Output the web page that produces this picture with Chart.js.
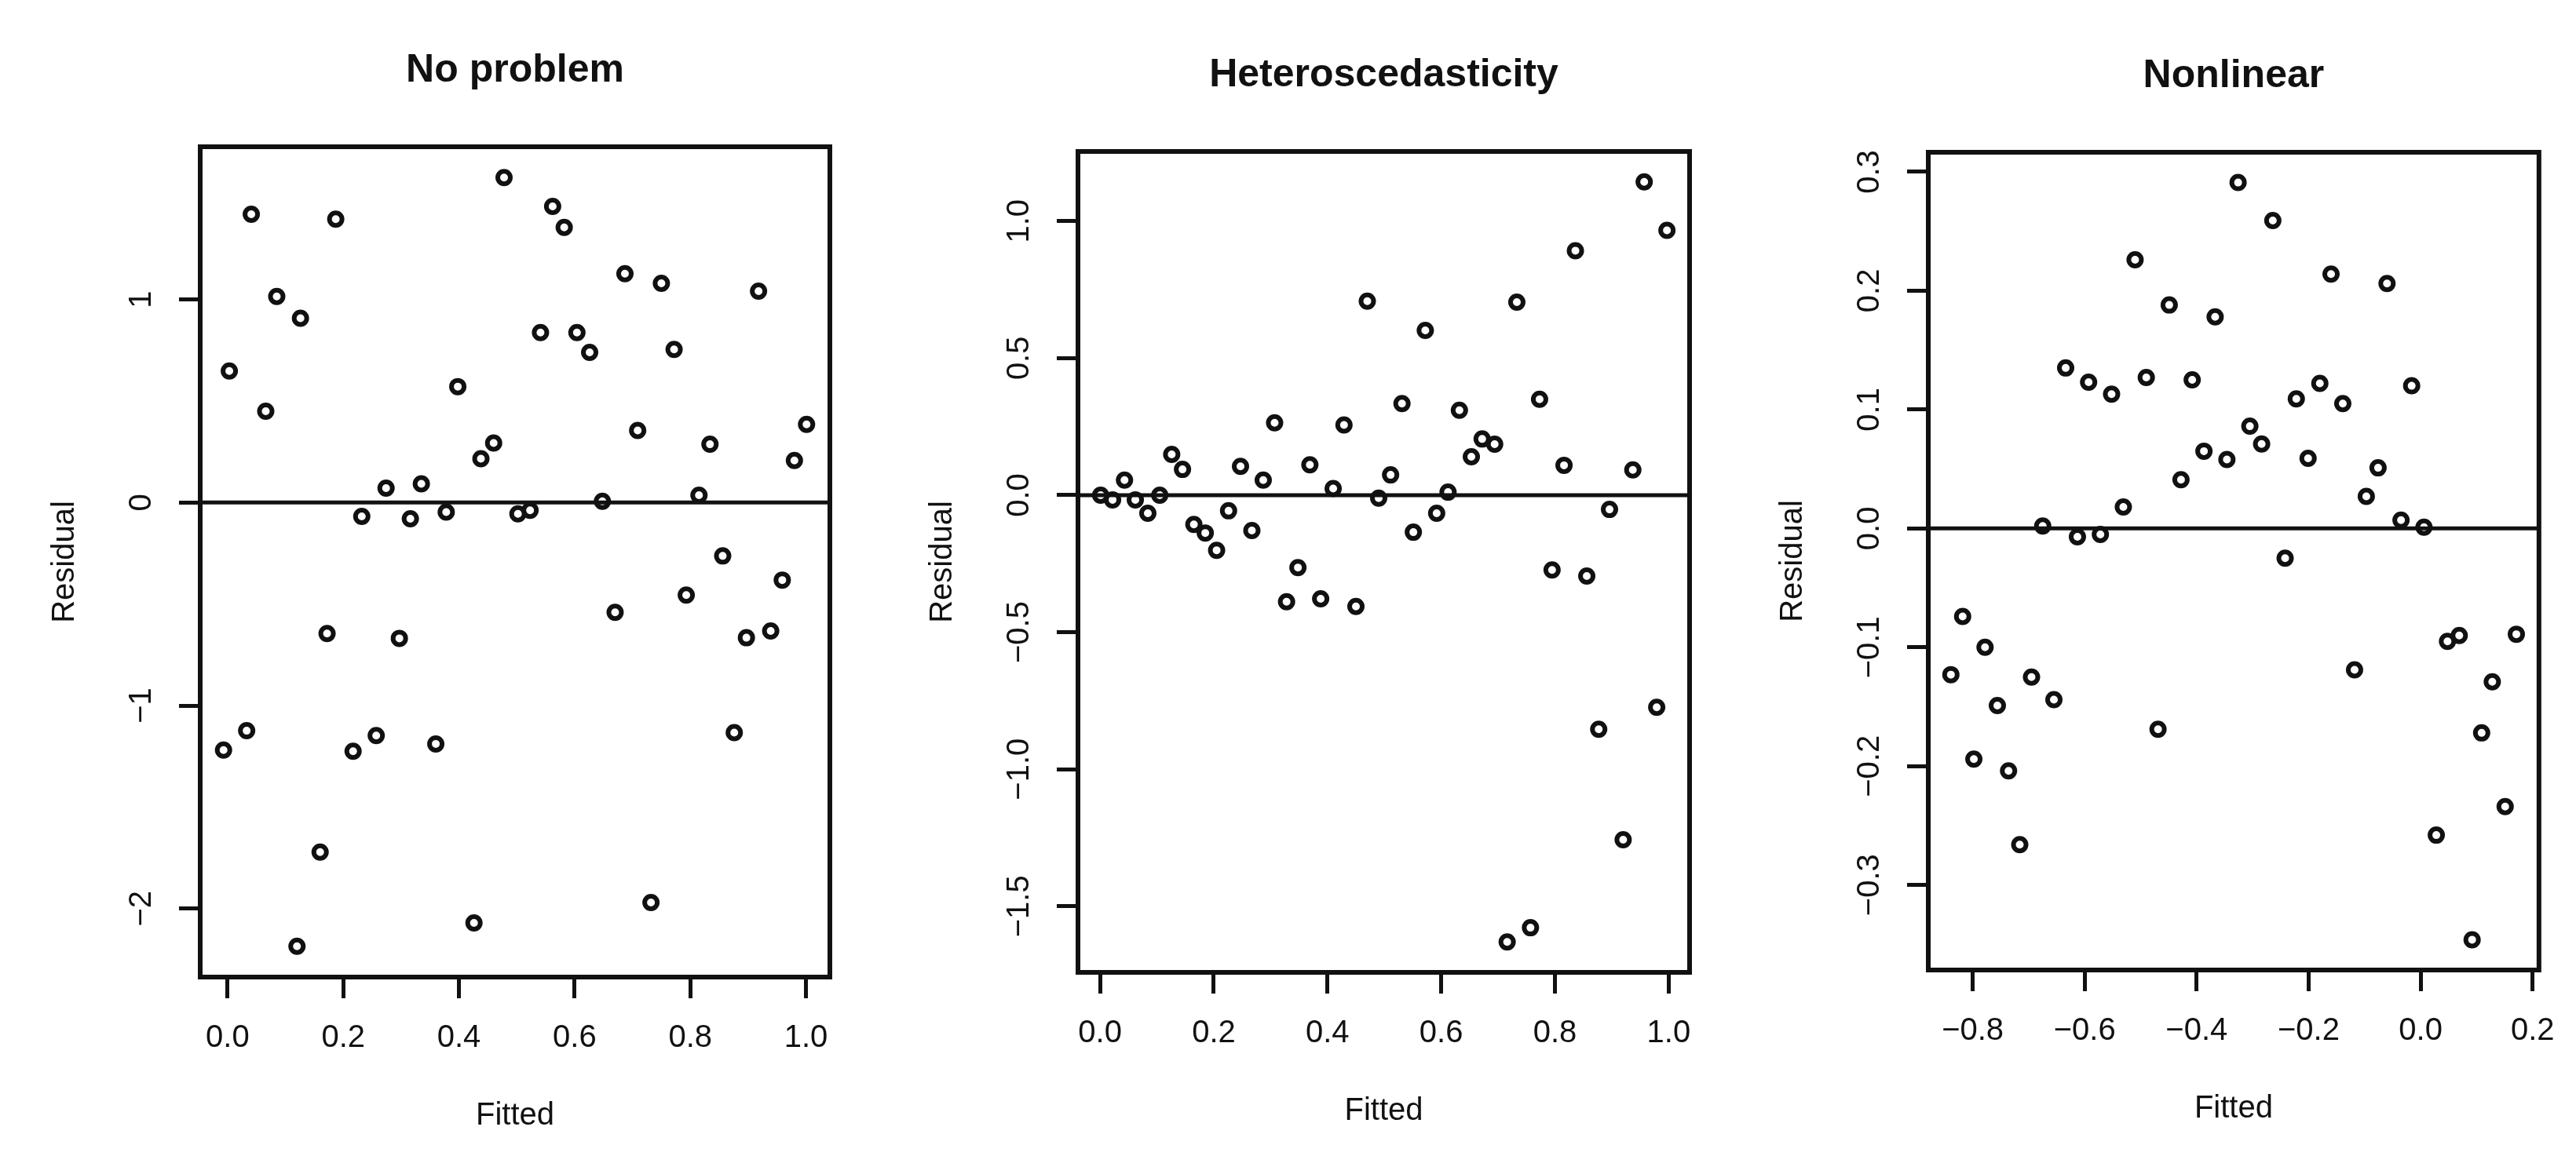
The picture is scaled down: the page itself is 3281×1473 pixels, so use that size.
<!DOCTYPE html>
<html>
<head>
<meta charset="utf-8">
<script src="https://cdn.jsdelivr.net/npm/chart.js@4.4.1/dist/chart.umd.min.js"></script>
<style>
  body { margin: 0; background: #fff; }
  #wrap { position: relative; width: 3281px; height: 1473px; background: #fff; }
  canvas { position: absolute; top: 0; }
</style>
</head>
<body>
<div id="wrap">
  <canvas id="p1"></canvas>
  <canvas id="p2"></canvas>
  <canvas id="p3"></canvas>
</div>
<script>
const titles = ["No problem", "Heteroscedasticity", "Nonlinear"];

// panel 1: no problem
const p1Fitted = [-0.007, 0.003, 0.033, 0.041, 0.066, 0.085, 0.120, 0.126, 0.160, 0.172,
  0.187, 0.217, 0.232, 0.257, 0.274, 0.297, 0.316, 0.335, 0.360, 0.378,
  0.398, 0.426, 0.438, 0.460, 0.478, 0.502, 0.523, 0.541, 0.562, 0.582,
  0.604, 0.626, 0.648, 0.670, 0.687, 0.709, 0.732, 0.750, 0.772, 0.793,
  0.815, 0.834, 0.856, 0.876, 0.897, 0.918, 0.939, 0.959, 0.980, 1.001];
const p1Resid = [-1.219, 0.648, -1.124, 1.420, 0.450, 1.015, -2.186, 0.908, -1.722, -0.645,
  1.396, -1.225, -0.068, -1.148, 0.071, -0.669, -0.080, 0.092, -1.189, -0.047,
  0.571, -2.071, 0.216, 0.293, 1.601, -0.056, -0.038, 0.837, 1.459, 1.355,
  0.837, 0.740, 0.006, -0.541, 1.127, 0.355, -1.970, 1.080, 0.754, -0.456,
  0.036, 0.287, -0.263, -1.133, -0.666, 1.041, -0.633, -0.382, 0.207, 0.385];
const p1XTicks = [0, 0.2, 0.4, 0.6, 0.8, 1.0];
const p1XLabels = ["0.0", "0.2", "0.4", "0.6", "0.8", "1.0"];
const p1YTicks = [-2, -1, 0, 1];
const p1YLabels = ["\u22122", "\u22121", "0", "1"];

// panel 2: heteroscedasticity
const p2Fitted = [0.001, 0.022, 0.043, 0.062, 0.084, 0.105, 0.126, 0.145, 0.165, 0.185,
  0.205, 0.226, 0.247, 0.267, 0.287, 0.307, 0.328, 0.348, 0.369, 0.388,
  0.410, 0.429, 0.450, 0.470, 0.490, 0.511, 0.531, 0.551, 0.572, 0.592,
  0.612, 0.632, 0.653, 0.672, 0.694, 0.716, 0.733, 0.757, 0.773, 0.795,
  0.816, 0.836, 0.856, 0.877, 0.896, 0.920, 0.937, 0.957, 0.979, 0.997];
const p2Resid = [0.000, -0.017, 0.055, -0.017, -0.066, 0.000, 0.149, 0.094, -0.107, -0.138,
  -0.201, -0.057, 0.105, -0.129, 0.055, 0.264, -0.389, -0.264, 0.111, -0.378,
  0.024, 0.256, -0.406, 0.708, -0.011, 0.074, 0.334, -0.135, 0.601, -0.066,
  0.011, 0.310, 0.140, 0.205, 0.186, -1.630, 0.704, -1.578, 0.350, -0.273,
  0.109, 0.892, -0.295, -0.854, -0.052, -1.257, 0.092, 1.143, -0.774, 0.966];
const p2XTicks = [0, 0.2, 0.4, 0.6, 0.8, 1.0];
const p2XLabels = ["0.0", "0.2", "0.4", "0.6", "0.8", "1.0"];
const p2YTicks = [-1.5, -1.0, -0.5, 0, 0.5, 1.0];
const p2YLabels = ["\u22121.5", "\u22121.0", "\u22120.5", "0.0", "0.5", "1.0"];

// panel 3: nonlinear
const p3Fitted = [-0.839, -0.818, -0.798, -0.778, -0.756, -0.736, -0.716, -0.695, -0.675, -0.655,
  -0.634, -0.613, -0.593, -0.572, -0.552, -0.531, -0.510, -0.490, -0.469, -0.449,
  -0.428, -0.408, -0.387, -0.367, -0.346, -0.326, -0.305, -0.284, -0.264, -0.242,
  -0.222, -0.201, -0.180, -0.160, -0.139, -0.118, -0.097, -0.076, -0.060, -0.035,
  -0.016, 0.006, 0.028, 0.048, 0.069, 0.092, 0.109, 0.128, 0.151, 0.171];
const p3Resid = [-0.123, -0.074, -0.194, -0.100, -0.149, -0.204, -0.266, -0.125, 0.002, -0.144,
  0.135, -0.007, 0.123, -0.005, 0.113, 0.018, 0.226, 0.127, -0.169, 0.188,
  0.041, 0.125, 0.065, 0.178, 0.058, 0.291, 0.086, 0.071, 0.259, -0.025,
  0.109, 0.059, 0.122, 0.214, 0.105, -0.119, 0.027, 0.051, 0.206, 0.007,
  0.120, 0.001, -0.258, -0.095, -0.090, -0.346, -0.172, -0.129, -0.234, -0.089];
const p3XTicks = [-0.8, -0.6, -0.4, -0.2, 0, 0.2];
const p3XLabels = ["\u22120.8", "\u22120.6", "\u22120.4", "\u22120.2", "0.0", "0.2"];
const p3YTicks = [-0.3, -0.2, -0.1, 0, 0.1, 0.2, 0.3];
const p3YLabels = ["\u22120.3", "\u22120.2", "\u22120.1", "0.0", "0.1", "0.2", "0.3"];

const H = 1473;
const ink = "#111";
const family = "'Liberation Sans', Arial, Helvetica, sans-serif";
const tickSize = 40;
const lh = tickSize * 1.2;
const titleSize = 50;

// R style axis range: data range stretched by 4% on each side
function rRange(vals) {
  const lo = Math.min(...vals), hi = Math.max(...vals);
  const d = (hi - lo) * 0.04;
  return [lo - d, hi + d];
}

const measureCtx = document.createElement("canvas").getContext("2d");
function widest(labels) {
  measureCtx.font = tickSize + "px " + family;
  return Math.max(...labels.map(l => measureCtx.measureText(l).width));
}

// closed box around the plot region
const boxPlugin = {
  id: "box",
  afterDatasetsDraw(chart) {
    const a = chart.chartArea, c = chart.ctx;
    c.save();
    c.strokeStyle = ink;
    c.lineWidth = 6;
    c.strokeRect(a.left, a.top, a.right - a.left, a.bottom - a.top);
    c.restore();
  }
};

function panel(id, title, fitted, resid, xTicks, xLabels, yTicks, yLabels, L) {
  const cv = document.getElementById(id);
  cv.width = L.w;
  cv.height = H;
  cv.style.left = L.x + "px";

  const [xMin, xMax] = rRange(fitted);
  const [yMin, yMax] = rRange(resid);
  const titleLh = titleSize * 1.2;
  const titleTop = L.top - 97 - titleLh / 2;

  const axisGrid = {
    display: true, drawOnChartArea: false, drawTicks: true,
    tickLength: 27, color: ink, lineWidth: 5
  };

  new Chart(cv, {
    type: "scatter",
    data: {
      datasets: [
        {
          type: "line",
          data: [{ x: xMin, y: 0 }, { x: xMax, y: 0 }],
          borderColor: ink,
          borderWidth: 5,
          pointRadius: 0
        },
        {
          data: fitted.map((x, i) => ({ x, y: resid[i] })),
          pointStyle: "circle",
          pointRadius: 8,
          pointBorderWidth: 6,
          pointBorderColor: ink,
          pointBackgroundColor: "rgba(255,255,255,0)"
        }
      ]
    },
    options: {
      responsive: false,
      animation: false,
      events: [],
      layout: { padding: { left: 0, top: 0, bottom: 0, right: L.w - L.right } },
      plugins: {
        legend: { display: false },
        tooltip: { enabled: false },
        title: {
          display: true,
          text: title,
          fullSize: false,
          color: ink,
          font: { family, size: titleSize, weight: "bold", lineHeight: 1.2 },
          padding: { top: titleTop, bottom: L.top - titleTop - titleLh }
        }
      },
      scales: {
        x: {
          type: "linear",
          position: "bottom",
          min: xMin,
          max: xMax,
          afterBuildTicks: s => { s.ticks = xTicks.map(v => ({ value: v })); },
          afterFit: s => { s.height = H - L.bottom; },
          grid: axisGrid,
          border: { display: false },
          ticks: {
            autoSkip: false, maxRotation: 0, padding: 78 - 27 - lh / 2, color: ink,
            font: { family, size: tickSize, lineHeight: 1.2 },
            callback: (v, i) => xLabels[i]
          },
          title: {
            display: true, text: "Fitted", color: ink,
            font: { family, size: tickSize, lineHeight: 1.2 },
            padding: { top: 0, bottom: H - L.bottom - 177 - lh / 2 }
          }
        },
        y: {
          type: "linear",
          position: "left",
          min: yMin,
          max: yMax,
          afterBuildTicks: s => { s.ticks = yTicks.map(v => ({ value: v })); },
          afterFit: s => { s.width = L.left; },
          grid: axisGrid,
          border: { display: false },
          ticks: {
            autoSkip: false, minRotation: 90, maxRotation: 90, crossAlign: "center",
            padding: 74 - 27 - widest(yLabels) / 2, color: ink,
            font: { family, size: tickSize, lineHeight: 1.2 },
            callback: (v, i) => yLabels[i]
          },
          title: {
            display: true, text: "Residual", color: ink,
            font: { family, size: tickSize, lineHeight: 1.2 },
            padding: { top: L.left - 172 - lh / 2, bottom: 0 }
          }
        }
      }
    },
    plugins: [boxPlugin]
  });
}

panel("p1", titles[0], p1Fitted, p1Resid, p1XTicks, p1XLabels, p1YTicks, p1YLabels,
  { x: 0, w: 1094, left: 255, right: 1057, top: 187, bottom: 1245 });
panel("p2", titles[1], p2Fitted, p2Resid, p2XTicks, p2XLabels, p2YTicks, p2YLabels,
  { x: 1094, w: 1094, left: 279, right: 1058, top: 193, bottom: 1239 });
panel("p3", titles[2], p3Fitted, p3Resid, p3XTicks, p3XLabels, p3YTicks, p3YLabels,
  { x: 2188, w: 1093, left: 268, right: 1049, top: 194, bottom: 1236 });
</script>
</body>
</html>
